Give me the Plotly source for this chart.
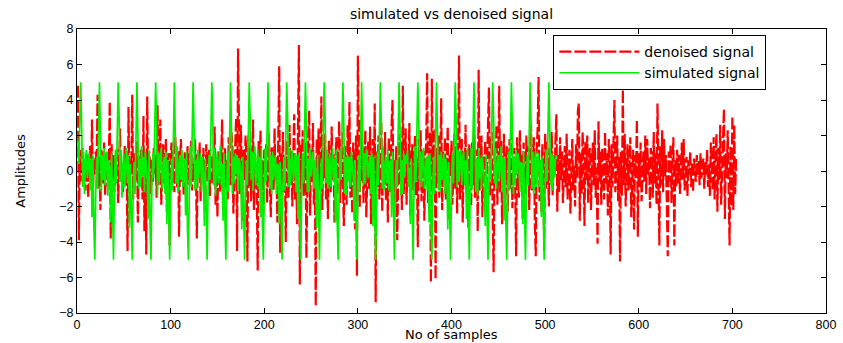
import plotly.graph_objects as go

# ---- data (sample index starts at 1) ----
denoised_signal = [
    4.8, -3.9, 1.2, -0.6, 0.9, 1.3, -0.8, 0.4, -1.1, 1.0, 0.7, -1.5, 0.3, 1.4, -0.9, 2.9, -1.3, 0.6, -0.2, 1.1,
    0.5, 4.3, -1.0, 0.8, -2.2, 1.2, 0.3, -0.7, 1.6, -1.4, 0.2, 1.1, -0.9, 0.6, 3.9, -3.8, 1.5, -0.4, 0.9, -1.2,
    0.7, -0.3, 1.3, -1.8, 0.4, 2.4, -0.6, 0.1, -1.2, 0.9, 1.4, -0.8, 0.3, -4.5, 3.6, -1.1, 0.6, -0.2, 4.3, -1.6,
    1.0, -0.5, 0.2, 1.7, -2.9, 0.8, -0.4, 1.2, 0.3, -1.6, 3.1, -3.4, 0.6, -4.7, 4.2, -0.9, 1.1, 0.4, -1.3, 0.7,
    -0.6, 1.3, -0.2, 0.9, -1.5, 3.7, -0.8, 0.5, 2.9, -1.9, 0.2, 1.5, -0.7, 0.4, 1.8, -2.3, 0.6, 1.0, -4.2, 0.8,
    1.6, -0.4, 0.7, -1.2, 1.9, 0.3, -0.9, 1.2, -3.7, 0.5, 1.8, -0.6, 0.2, -1.4, 1.1, 0.6, -2.0, 1.4, 0.3, -0.8,
    0.9, 1.7, -1.1, 0.4, -0.5, 1.8, 0.2, -3.8, 1.0, -0.3, 1.6, -1.7, 0.8, 0.1, 1.3, -0.9, -2.1, 1.5, 0.4, -0.6,
    1.2, -1.4, 0.6, 0.9, -0.7, 1.8, 2.5, -1.9, 0.3, -2.6, 1.1, 0.5, -1.2, 0.8, 2.9, -2.2, 0.4, 1.3, -1.0, 0.6,
    -1.6, 1.9, 0.3, -0.8, 2.2, 1.4, -2.4, 0.7, 1.5, 3.0, -4.5, 6.9, 1.8, -1.3, 2.6, 0.4, -2.8, 1.2, -0.5, 2.0,
    0.8, -5.1, 2.0, -0.9, 1.3, -1.7, 0.5, 2.9, -2.2, 1.0, 0.4, -1.3, -5.6, 1.7, -0.6, 2.3, -1.0, 0.6, -2.4, 1.2,
    0.3, 1.5, -1.8, 0.9, 2.1, -0.7, -2.6, 1.4, 0.2, -1.1, 2.4, -0.5, 0.8, -2.9, 1.9, 5.9, -4.6, 1.0, -0.8, 2.2,
    -1.2, 0.6, -4.0, 1.7, 0.4, -1.5, 2.6, -0.3, 1.1, -2.0, 0.9, 3.2, -1.6, 0.5, -3.0, 2.1, 7.1, -6.4, 1.5, -0.8,
    2.3, -1.4, 0.7, 1.6, -4.9, 0.2, 2.0, 3.4, -2.5, 1.2, -0.6, 2.7, -1.9, 0.4, -7.6, 1.8, -0.9, 2.4, -1.1, 0.5,
    4.2, -2.2, 1.3, -0.4, 2.1, -1.6, 0.8, -2.7, 1.7, 0.3, -1.2, 2.5, -0.5, 1.0, -2.9, 0.6, 1.9, -1.3, 0.2, 2.8,
    -1.8, 0.9, 2.2, -0.7, -3.1, 1.4, 0.5, -1.9, 2.6, -0.2, 3.9, -1.5, 0.8, -2.4, 1.6, 0.3, -3.3, 2.0, -5.9, 6.5,
    1.2, -2.1, 2.9, -0.6, 1.4, -1.8, 0.7, 2.3, -2.6, 0.4, 1.7, -1.0, 2.5, -3.0, 0.9, 1.8, -1.4, 3.8, -7.4, 1.1,
    -0.9, 2.0, -1.6, 0.5, 2.8, -2.3, 1.3, -0.4, 2.2, -1.7, 0.8, -2.9, 1.9, 0.2, -1.2, 2.6, 4.0, -1.5, 0.6, -2.1,
    1.4, -3.9, 0.9, 2.1, -0.8, 1.6, -2.2, 4.8, -1.3, 0.5, 2.4, -1.9, 1.0, -0.5, 2.7, -2.5, 0.8, 1.5, -1.1, 0.3,
    2.0, -1.4, 0.7, -4.3, 1.8, -0.6, 2.3, -1.7, 0.4, 1.2, -2.8, 0.9, 1.6, 5.5, -1.8, 0.6, 2.2, -6.3, 5.2, -1.0,
    0.8, 2.4, -6.1, 1.3, -0.7, 2.0, -1.5, 0.3, 4.1, -2.2, 1.1, -0.4, 1.9, -1.6, 0.6, 2.5, -2.7, 0.9, -0.3, 1.7,
    -1.9, 0.5, 2.1, -1.0, 1.4, -2.4, 0.7, 6.5, -1.6, 0.2, 1.8, -2.9, 1.1, -0.6, 2.6, -1.3, 0.4, -3.2, 1.5, 0.9,
    -2.0, 1.6, -0.8, 2.3, -1.5, 0.6, 1.2, -3.4, 5.7, -1.1, 0.3, 2.0, -2.6, 0.9, -0.4, 1.7, -1.8, 0.5, 2.8, 4.7,
    -1.4, 0.8, 2.2, -2.5, -5.7, 1.3, -0.6, 2.6, -1.9, 0.4, 4.8, -1.2, 1.7, -3.0, 0.7, 2.1, -1.6, 0.3, 1.4, -2.3,
    0.9, 1.8, -1.0, 2.5, -2.1, 0.6, 1.3, -0.8, -4.8, 1.9, 0.2, -1.5, 2.3, -0.4, 1.0, -2.7, 1.6, 0.5, -1.3, 2.0,
    -0.7, 1.4, -2.2, 0.8, 2.6, -1.1, 0.3, 1.9, -2.9, -4.8, 1.2, 2.4, 5.3, -1.7, 0.6, -2.3, 1.5, 0.1, -4.5, 2.1,
    -1.0, 1.7, 0.4, -2.0, 1.3, -0.6, 2.2, -1.4, 0.8, -0.3, 1.6, 3.2, -2.3, 0.9, -1.2, 1.9, -0.5, 1.1, -1.8, 0.6,
    1.4, -0.9, 2.1, -1.6, 0.5, 1.2, -2.4, 0.8, 1.8, -1.1, 0.3, -2.0, 1.5, -0.4, 3.4, 3.8, -2.8, 1.0, -1.3, 2.2,
    0.6, -3.1, 1.7, -0.5, 2.0, -1.8, 0.9, 1.3, -2.2, 0.4, 1.6, -0.8, 2.3, -1.5, 0.2, -4.1, 2.8, -0.6, 1.1, -1.9,
    1.3, 0.4, -1.6, 2.2, -0.7, 1.0, -2.5, 1.8, 0.3, -4.7, 1.5, -0.9, 2.4, 4.0, -1.2, 0.6, 2.0, -1.7, 0.8, -5.1,
    1.1, -1.4, 4.6, -0.8, 2.1, -2.0, 0.7, 1.5, -1.1, 0.2, 1.9, -2.6, 0.5, 1.2, -3.3, 0.9, -0.4, 2.9, -3.7, 1.0,
    -0.9, 1.6, -1.7, 0.4, 1.1, -0.6, 2.0, -1.3, 1.8, -0.2, 0.8, -2.1, 1.3, 0.5, -1.5, 2.2, -0.7, 1.0, -1.9, 3.8,
    0.7, -4.2, 1.4, -0.8, 2.3, -1.2, 1.8, -0.3, 0.9, -2.4, -4.8, 1.1, -0.6, 1.5, -1.8, 0.4, 1.9, -4.2, 0.6, -0.9,
    1.2, -0.7, 0.9, -1.3, 0.4, 1.6, -0.5, 1.8, -1.1, 0.3, 0.8, -1.4, 0.6, -0.2, 1.1, -0.9, 0.5, -1.2, 0.7, 0.2,
    -0.6, 0.9, -0.3, 0.6, -0.8, 1.0, -0.4, 0.3, 0.7, -1.0, 0.5, -0.2, 1.2, -0.9, 0.4, -1.4, 1.6, 0.2, -1.1, 1.9,
    -1.6, 0.8, 2.1, -2.3, 1.3, -0.5, 2.6, -1.9, 0.6, 1.8, 3.5, -2.7, 1.0, -0.4, 2.3, -1.5, -4.2, 1.4, -2.0, 3.1,
    -2.2, 2.6, -1.3, 0.7,
]

simulated_signal = [
    1.7, 0.4, 2.9, 5.0, 2.4, -0.9, 1.1, -1.3, 0.6, 1.2, -0.4, 0.2, 1.0, -1.1, 0.7, -2.6, 0.9, -3.1, -5.0, -1.2,
    0.8, -1.0, 3.1, 5.0, 1.8, -1.2, 0.9, -0.5, 1.3, -0.8, 0.4, 1.1, -1.4, 0.6, 0.2, -2.9, 1.0, -1.8, -5.0, -0.6,
    1.2, -0.7, 2.5, 5.0, 3.0, -0.6, 1.2, -1.5, 0.3, 1.0, -0.9, 0.5, 1.3, -0.7, 0.9, -3.2, 0.4, -2.2, -5.0, -1.0,
    0.5, -1.3, 2.8, 5.0, 2.1, -1.0, 0.7, -0.9, 1.4, -0.3, 0.8, -1.2, 1.1, 0.2, -0.5, -2.7, 1.2, -2.9, -5.0, -0.8,
    1.0, -0.4, 3.3, 5.0, 2.7, -1.4, 1.0, -0.6, 0.9, 1.3, -1.0, 0.4, 0.8, -1.3, 1.1, -3.0, 0.6, -2.4, -5.0, -1.4,
    0.7, -1.1, 2.6, 5.0, 1.9, -0.7, 1.4, -1.2, 0.4, 0.9, -0.5, 1.2, -0.9, 0.3, 0.7, -2.5, 1.1, -3.3, -5.0, -0.9,
    1.4, -0.9, 3.0, 5.0, 2.5, -1.1, 0.6, -1.0, 1.2, -0.4, 0.3, 1.0, -1.2, 0.8, -0.2, -3.1, 0.7, -2.0, -5.0, -1.1,
    0.9, -0.5, 2.7, 5.0, 3.1, -0.8, 1.3, -1.4, 0.5, 1.1, -0.7, 0.6, 1.4, -0.8, 0.4, -2.8, 1.0, -2.7, -5.0, -0.7,
    1.1, -1.2, 3.2, 5.0, 2.2, -1.3, 0.8, -0.7, 1.0, -0.2, 0.9, -1.1, 0.7, 0.5, -0.6, -3.3, 0.8, -2.3, -5.0, -1.3,
    0.6, -0.8, 2.4, 5.0, 2.8, -0.5, 1.1, -1.1, 0.7, 1.4, -0.8, 0.3, 1.2, -1.0, 0.8, -2.6, 1.3, -3.0, -5.0, -1.0,
    1.3, -0.6, 3.0, 5.0, 2.0, -1.0, 0.9, -1.3, 1.1, -0.5, 0.6, 0.9, -1.3, 0.4, 0.3, -3.0, 0.5, -2.5, -5.0, -0.8,
    0.8, -1.1, 2.7, 5.0, 2.9, -0.9, 1.3, -0.8, 0.4, 1.2, -0.6, 0.7, 1.0, -1.2, 0.9, -2.7, 1.0, -2.8, -5.0, -1.2,
    1.0, -0.7, 3.2, 5.0, 2.3, -1.2, 0.7, -1.2, 1.3, -0.3, 0.5, 1.1, -1.0, 0.6, -0.4, -3.2, 0.9, -2.1, -5.0, -0.9,
    0.7, -1.0, 2.5, 5.0, 3.0, -0.7, 1.2, -1.0, 0.6, 1.0, -0.9, 0.4, 1.3, -0.6, 0.7, -2.9, 1.2, -3.1, -5.0, -1.1,
    1.2, -0.5, 2.9, 5.0, 2.6, -1.3, 0.8, -1.4, 0.9, -0.6, 0.8, -0.9, 1.1, 0.3, -0.3, -2.8, 0.6, -2.4, -5.0, -0.7,
    0.9, -1.2, 3.1, 5.0, 2.1, -0.8, 1.0, -0.7, 1.2, 1.1, -0.4, 0.6, 0.9, -1.3, 1.0, -3.1, 0.8, -2.6, -5.0, -1.3,
    1.1, -0.8, 2.6, 5.0, 2.8, -1.0, 1.4, -1.1, 0.3, 0.8, -0.7, 1.2, -1.1, 0.5, 0.6, -2.6, 1.1, -3.2, -5.0, -1.0,
    0.6, -0.9, 3.0, 5.0, 2.4, -1.4, 0.6, -1.3, 1.0, -0.3, 0.9, 0.4, 1.2, -0.9, 0.2, -3.0, 0.7, -2.2, -5.0, -0.8,
    1.4, -0.6, 2.8, 5.0, 3.1, -0.6, 1.1, -0.9, 0.8, 1.3, -1.0, 0.5, 0.8, -1.1, 0.9, -2.9, 1.0, -2.9, -5.0, -1.2,
    0.8, -1.3, 3.3, 5.0, 2.2, -1.1, 0.9, -1.2, 1.1, -0.5, 0.4, 1.0, -1.3, 0.7, -0.2, -3.3, 0.5, -2.3, -5.0, -0.9,
    1.0, -0.7, 2.5, 5.0, 2.7, -0.9, 1.2, -0.6, 0.5, 1.2, -0.8, 0.8, 1.1, -0.8, 0.6, -2.7, 1.3, -3.0, -5.0, -1.1,
    1.3, -1.0, 3.0, 5.0, 2.0, -1.2, 0.7, -1.4, 1.3, -0.4, 0.7, -1.0, 0.9, 0.4, -0.5, -3.1, 0.9, -2.5, -5.0, -0.6,
    0.7, -0.5, 2.9, 5.0, 2.9, -0.7, 1.3, -1.0, 0.4, 0.9, -0.6, 0.3, 1.4, -1.2, 0.8, -2.8, 0.7, -2.8, -5.0, -1.3,
    1.1, -1.1, 2.7, 5.0, 2.3, -1.3, 0.8, -0.8, 1.2, -0.2, 1.0, 0.6, -1.2, 0.5, 0.4, -3.0, 1.1, -2.1, -5.0, -1.0,
    0.9, -0.8, 3.1, 5.0, 2.6, -1.0, 1.1, -1.3, 0.7, 1.1, -0.9, 0.7, 1.0, -0.9, 0.6, -2.6, 0.8, -3.0, -5.0, -0.7,
    1.2, -0.6, 2.8, 5.0, 2.1, -0.8, 1.0, -1.1, 0.9, -0.4, 0.6, 0.9,
]

x_ticks = [0, 100, 200, 300, 400, 500, 600, 700, 800]
y_ticks = [-8, -6, -4, -2, 0, 2, 4, 6, 8]

title_text = "simulated vs denoised signal"
x_label = "No of samples"
y_label = "Amplitudes"
series_names = ["denoised signal", "simulated signal"]

FONT = "DejaVu Sans, Liberation Sans, Arial, sans-serif"
TICKFONT = "Liberation Sans, Arial, sans-serif"

fig = go.Figure()
fig.add_trace(go.Scatter(
    x=list(range(1, len(denoised_signal) + 1)), y=denoised_signal,
    mode="lines", name=series_names[0], legendrank=1,
    line=dict(color="#ff0000", width=2.2, dash="12px,3px"),
))
fig.add_trace(go.Scatter(
    x=list(range(1, len(simulated_signal) + 1)), y=simulated_signal,
    mode="lines", name=series_names[1], legendrank=2,
    line=dict(color="#00f000", width=1.7),
))

axis_common = dict(
    showgrid=False, zeroline=False, showline=True, linecolor="black", linewidth=1,
    mirror="ticks", ticks="inside", ticklen=5, tickcolor="black",
    tickfont=dict(family=TICKFONT, size=12.5, color="black"),
)

PLOT_TOP = 29
PLOT_BOTTOM = 313
fig.update_layout(
    width=843, height=343,
    margin=dict(l=77, r=17, t=PLOT_TOP, b=343 - PLOT_BOTTOM, autoexpand=False),
    paper_bgcolor="white", plot_bgcolor="white",
    title=dict(text=title_text, x=0.5, xref="paper", xanchor="center",
               y=1 - 14 / 343, yanchor="middle",
               font=dict(family=FONT, size=14, color="black")),
    xaxis=dict(range=[0, 800], tickvals=x_ticks, automargin=False, **axis_common),
    yaxis=dict(range=[-8, 8], tickvals=y_ticks, automargin=False,
               title=dict(text=y_label, standoff=30, font=dict(family=FONT, size=13, color="black")),
               **axis_common),
    legend=dict(x=0.636, y=0.979, xanchor="left", yanchor="top",
                bgcolor="white", bordercolor="black", borderwidth=1,
                font=dict(family=FONT, size=14, color="black"),
                itemwidth=80, tracegroupgap=0),
    showlegend=True,
    annotations=[dict(text=x_label, xref="paper", yref="paper", x=0.5,
                      y=-(343 - PLOT_BOTTOM) / (PLOT_BOTTOM - PLOT_TOP),
                      xanchor="center", yanchor="bottom", showarrow=False, borderpad=0,
                      font=dict(family=FONT, size=13, color="black"))],
)

fig.write_html("out.html")
